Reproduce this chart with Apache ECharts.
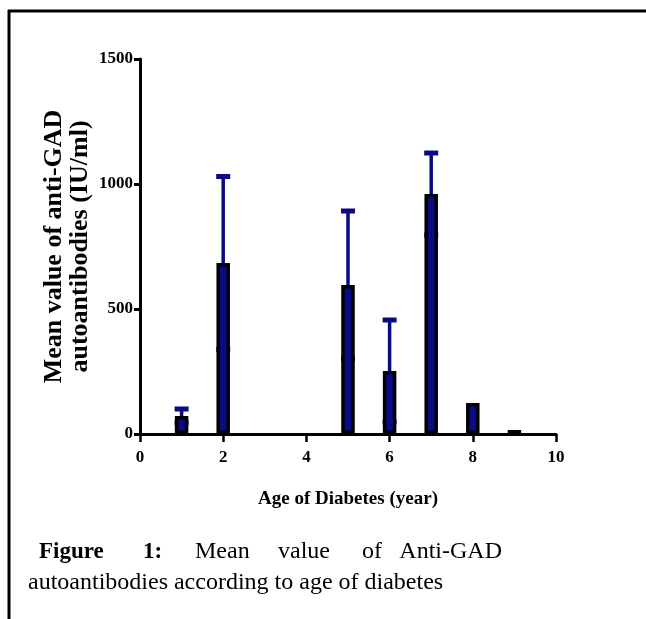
<!DOCTYPE html>
<html>
<head>
<meta charset="utf-8">
<script src="https://cdn.jsdelivr.net/npm/echarts@6/dist/echarts.min.js"></script>
<style>
html,body{margin:0;padding:0;background:#fff;}
#chart{width:646px;height:619px;}
</style>
</head>
<body>
<div id="chart"></div>
<script>
// Data
const ages = [1, 2, 5, 6, 7, 8, 9];
const means = [72, 684, 596, 252, 960, 124, 16];
const sds = [28, 346, 296, 204, 164, 0, 0];
const xTicks = [0, 2, 4, 6, 8, 10];
const yTicks = [0, 500, 1000, 1500];
const xTitle = 'Age of Diabetes (year)';
const yTitle = 'Mean value of anti-GAD\nautoantibodies (IU/ml)';
const captionLine1 = ['Figure', '1:', 'Mean', 'value', 'of', 'Anti-GAD'];
const captionLine2 = 'autoantibodies according to age of diabetes';

const NAVY = '#0a0a85';
const SERIF = '"Liberation Serif","Times New Roman",serif';

const barData = ages.map((a, i) => [a, means[i]]);
const errData = ages.map((a, i) => [a, means[i], sds[i]]);

const chart = echarts.init(document.getElementById('chart'));

const capX = [39, 143, 195, 278, 362, 502];
const capGraphics = captionLine1.map((w, i) => ({
  type: 'text',
  silent: true,
  style: {
    text: w,
    x: capX[i],
    y: 552,
    align: i === captionLine1.length - 1 ? 'right' : 'left',
    verticalAlign: 'middle',
    font: (i < 2 ? 'bold 23px ' : '24px ') + SERIF,
    fill: '#000'
  }
}));
capGraphics.push({
  type: 'text',
  silent: true,
  style: {
    text: captionLine2,
    x: 28,
    y: 583,
    align: 'left',
    verticalAlign: 'middle',
    font: '24px ' + SERIF,
    fill: '#000'
  }
});

const option = {
  animation: false,
  backgroundColor: '#fff',
  grid: { left: 140, top: 59, width: 416, height: 375, containLabel: false },
  xAxis: {
    type: 'value',
    min: 0, max: 10, interval: 2,
    name: xTitle,
    nameLocation: 'middle',
    nameGap: 56,
    nameMoveOverlap: false,
    nameTextStyle: { fontFamily: SERIF, fontWeight: 'bold', fontSize: 19, color: '#000' },
    axisLine: { show: true, onZero: false, lineStyle: { color: '#000', width: 3 } },
    axisTick: { show: true, inside: false, length: 8, lineStyle: { color: '#000', width: 2.5 } },
    axisLabel: {
      margin: 15, fontFamily: SERIF, fontWeight: 'bold', fontSize: 17, color: '#000',
      formatter: function (v) { return xTicks.indexOf(v) >= 0 ? String(v) : ''; }
    },
    splitLine: { show: false }
  },
  yAxis: {
    type: 'value',
    min: 0, max: 1500, interval: 500,
    name: yTitle,
    nameLocation: 'middle',
    nameRotate: 90,
    nameGap: 47,
    nameMoveOverlap: false,
    nameTextStyle: { fontFamily: SERIF, fontWeight: 'bold', fontSize: 26, lineHeight: 26, color: '#000' },
    axisLine: { show: true, lineStyle: { color: '#000', width: 3 } },
    axisTick: { show: true, inside: false, length: 6, lineStyle: { color: '#000', width: 3 } },
    axisLabel: {
      margin: 7, fontFamily: SERIF, fontWeight: 'bold', fontSize: 17, color: '#000',
      formatter: function (v) { return yTicks.indexOf(v) >= 0 ? String(v) : ''; }
    },
    splitLine: { show: false }
  },
  graphic: [
    { type: 'line', silent: true, shape: { x1: 8, y1: 11, x2: 646, y2: 11 }, style: { stroke: '#000', lineWidth: 3 } },
    { type: 'line', silent: true, shape: { x1: 9, y1: 10, x2: 9, y2: 619 }, style: { stroke: '#000', lineWidth: 3 } }
  ].concat(capGraphics),
  series: [
    {
      type: 'custom',
      z: 1,
      data: errData,
      renderItem: function (params, api) {
        const x = api.value(0), m = api.value(1), sd = api.value(2);
        if (!sd) return null;
        const top = api.coord([x, m + sd]);
        const bot = api.coord([x, m - sd]);
        const h = 7;
        const st = { stroke: NAVY, lineWidth: 3.5 };
        const cs = { stroke: NAVY, lineWidth: 5 };
        return {
          type: 'group',
          children: [
            { type: 'line', shape: { x1: top[0], y1: top[1], x2: bot[0], y2: bot[1] }, style: st },
            { type: 'line', shape: { x1: top[0] - h, y1: top[1], x2: top[0] + h, y2: top[1] }, style: cs },
            { type: 'line', shape: { x1: bot[0] - h, y1: bot[1], x2: bot[0] + h, y2: bot[1] }, style: cs }
          ]
        };
      }
    },
    {
      type: 'bar',
      z: 3,
      data: barData,
      barWidth: 13.5,
      itemStyle: { color: NAVY, borderColor: '#000', borderWidth: 3.5 }
    }
  ]
};
chart.setOption(option);
</script>
</body>
</html>
